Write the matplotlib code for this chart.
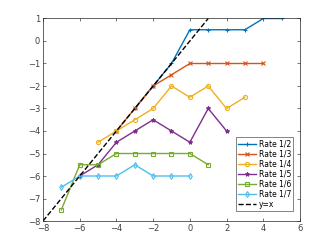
import matplotlib
matplotlib.use("Agg")
import matplotlib.pyplot as plt

x_r2 = [-3, -2, -1, 0, 1, 2, 3, 4, 5]
y_r2 = [-3, -2, -1, 0.5, 0.5, 0.5, 0.5, 1, 1]
x_r3 = [-4, -3, -2, -1, 0, 1, 2, 3, 4]
y_r3 = [-4, -3, -2, -1.5, -1, -1, -1, -1, -1]
x_r4 = [-5, -4, -3, -2, -1, 0, 1, 2, 3]
y_r4 = [-4.5, -4, -3.5, -3, -2, -2.5, -2, -3, -2.5]
x_r5 = [-6, -5, -4, -3, -2, -1, 0, 1, 2]
y_r5 = [-6, -5.5, -4.5, -4, -3.5, -4, -4.5, -3, -4]
x_r6 = [-7, -6, -5, -4, -3, -2, -1, 0, 1]
y_r6 = [-7.5, -5.5, -5.5, -5, -5, -5, -5, -5, -5.5]
x_r7 = [-7, -6, -5, -4, -3, -2, -1, 0]
y_r7 = [-6.5, -6, -6, -6, -5.5, -6, -6, -6]
x_ref = [-8, 1]

labels = ["Rate 1/2", "Rate 1/3", "Rate 1/4", "Rate 1/5", "Rate 1/6", "Rate 1/7", "y=x"]
colors = ["#0072BD", "#D95319", "#EDB120", "#7E2F8E", "#77AC30", "#4DBEEE"]
markers = ["+", "x", "o", "*", "s", "d"]

fig = plt.figure(figsize=(3.32, 2.49), dpi=100)
ax = fig.add_axes([43/332, 1-221/249, 257/332, 202.5/249])

series = [(x_r2, y_r2), (x_r3, y_r3), (x_r4, y_r4), (x_r5, y_r5), (x_r6, y_r6), (x_r7, y_r7)]
for (xs, ys), c, m, lab in zip(series, colors, markers, labels):
    filled = m in ("*",)
    ax.plot(xs, ys, color=c, marker=m, markersize=3, lw=1.0, label=lab,
            markerfacecolor=c if filled else "none", markeredgewidth=0.8)
ax.plot(x_ref, x_ref, "k--", lw=1.0, label=labels[6])

ax.set_xlim(-8, 6)
ax.set_ylim(-8, 1)
ax.set_xticks(range(-8, 7, 2))
ax.set_yticks(range(-8, 2, 1))
ax.tick_params(direction="in", length=2.5, width=0.5, labelsize=6, colors="#404040",
               top=True, right=True, pad=2)
for s in ax.spines.values():
    s.set_linewidth(0.5)
    s.set_color("#262626")

leg = ax.legend(loc="lower right", bbox_to_anchor=(1 - 7/257, 10/202.5), fontsize=5.5,
                frameon=True, fancybox=False, edgecolor="#262626", borderaxespad=0,
                handlelength=2.3, handletextpad=0.4, labelspacing=0.15, borderpad=0.25)
leg.get_frame().set_linewidth(0.5)

fig.savefig("out.png", dpi=100)
